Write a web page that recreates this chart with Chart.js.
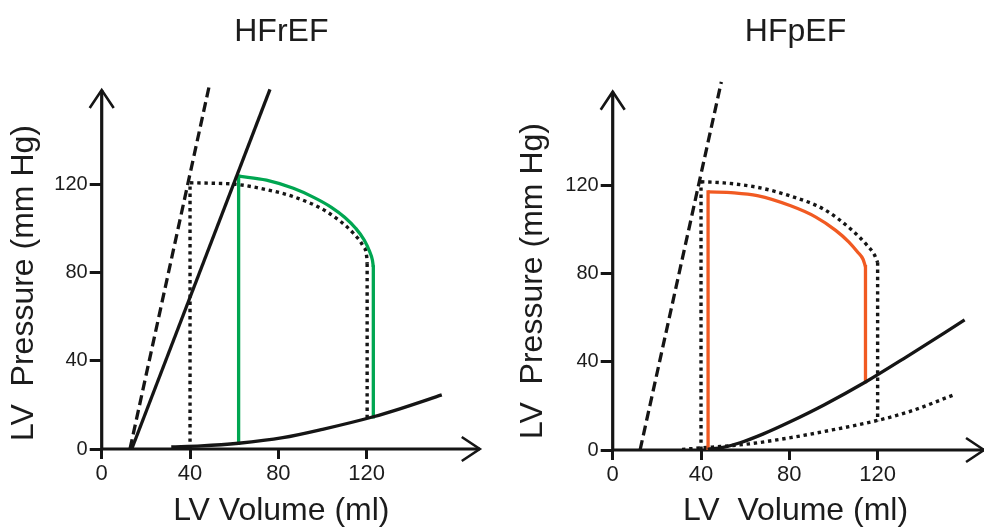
<!DOCTYPE html>
<html><head><meta charset="utf-8">
<script src="https://cdn.jsdelivr.net/npm/chart.js@4/dist/chart.umd.min.js"></script>
<style>
html,body{margin:0;padding:0;background:#fff;overflow:hidden}
#wrap{position:relative;width:984px;height:527px}
.pane{position:absolute;top:0;width:492px;height:527px}
</style></head><body>
<div id="wrap">
<div class="pane" style="left:0"><canvas id="c1" width="492" height="527"></canvas></div>
<div class="pane" style="left:492px"><canvas id="c2" width="492" height="527"></canvas></div>
</div>
<script>
// ---- text / ticks ----
const panelTitles = ['HFrEF', 'HFpEF'];
const xAxisTitles = ['LV Volume (ml)', 'LV  Volume (ml)'];
const yAxisTitle = 'LV  Pressure (mm Hg)';
const xTickValues = [0, 40, 80, 120];
const yTickValues = [0, 40, 80, 120];

// ---- HFrEF panel: [volume ml, pressure mmHg] ----
const rNormalESPVR = [[12.8, 0], [49.0, 165.9]];
const rHfrefESPVR = [[13.6, 0], [76.2, 162.9]];
const rEDPVR = [[31.5, 1.0], [45, 1.4], [62, 2.6], [82, 5.1], [100, 8.9], [123, 14.6], [135, 18.2], [154, 24.5]];
const rNormalLoopLeft = [[40, 0], [40, 120.6]];
const rNormalLoopTop = [[40, 120.6], [50, 120.4], [61, 119.9], [74.6, 117.5], [86.8, 114.3], [101.9, 107.5], [114, 97.7], [118.3, 92], [120, 87.1], [120.2, 84]];
const rNormalLoopRight = [[120.2, 84], [120.2, 14.2]];
const rLoopLeft = [[62, 2.6], [62, 123.6]];
const rLoopTop = [[62, 123.6], [74.6, 121.8], [86.8, 118.1], [96, 114], [104, 109.5], [110, 105], [115, 100], [118.8, 94.8], [121.3, 89.5], [122.6, 85.5], [123, 82.5]];
const rLoopRight = [[123, 82.5], [123, 14.6]];

// ---- HFpEF panel ----
const pNormalESPVR = [[12.4, 0], [49.2, 166.7]];
const pNormalEDPVR = [[31.4, 0.3], [45, 1.3], [62, 2.8], [80.6, 5.6], [100, 9.2], [120, 13.4], [135, 17.6], [154.3, 24.9]];
const pHfpefEDPVR = [[43, 0.3], [50, 1.2], [57.7, 3.3], [68, 7.2], [80.6, 12.9], [95.7, 20.4], [114.7, 30.9], [133.1, 42.2], [159.4, 58.9]];
const pNormalLoopLeft = [[40, 0], [40, 121.5]];
const pNormalLoopTop = [[40, 121.5], [50.3, 121], [65.5, 119], [80.6, 115], [95.7, 109], [107.9, 100], [115.5, 92.4], [118.5, 88.5], [120, 85]];
const pNormalLoopRight = [[120, 85], [120, 13]];
const pLoopLeft = [[43.2, 0.8], [43.2, 116.9]];
const pLoopTop = [[43.2, 116.9], [55, 116.5], [65.5, 115.2], [80.6, 110.6], [92, 105.5], [101, 99.5], [107, 94.2], [111, 89.6], [113.4, 86.4], [114.5, 83]];
const pLoopRight = [[114.5, 83], [114.5, 31]];

// ---- styling ----
const FONT = "'Liberation Sans', Arial, Helvetica, sans-serif";
const INK = '#151515';
const TXT = '#1c1c1c';
const GREEN = '#00a651';
const ORANGE = '#f15a22';

const pts = a => a.map(([x, y]) => ({x, y}));
function ds(data, color, style, smooth, cap) {
  return {
    data: pts(data), showLine: true, borderColor: color, backgroundColor: color,
    borderWidth: style === 'dot' ? 3.4 : 3.3, pointRadius: 0, fill: false, clip: false,
    tension: smooth ? 0.4 : 0,
    cubicInterpolationMode: smooth ? 'monotone' : 'default',
    borderDash: style === 'dash' ? [10, 5] : style === 'dot' ? [3.4, 3.8] : [],
    borderCapStyle: cap || 'butt', borderJoinStyle: 'miter'
  };
}

const axisArrows = {
  id: 'axisArrows',
  beforeDatasetsDraw(chart, args, opts) {
    const {ctx, scales: {x, y}} = chart;
    const x0 = x.getPixelForValue(0), y0 = y.getPixelForValue(0);
    const xt = x.getPixelForValue(opts.xEnd), yt = y.getPixelForValue(opts.yEnd);
    ctx.save();
    ctx.strokeStyle = INK; ctx.lineWidth = 3.2; ctx.lineCap = 'butt';
    ctx.beginPath();
    ctx.moveTo(x0 - 1.5, y0); ctx.lineTo(xt, y0);
    ctx.moveTo(x0, y0 + 1.5); ctx.lineTo(x0, yt);
    ctx.stroke();
    ctx.lineWidth = 2.6; ctx.lineJoin = 'miter';
    ctx.beginPath();
    ctx.moveTo(xt - 18, y0 - 12); ctx.lineTo(xt, y0); ctx.lineTo(xt - 18, y0 + 12);
    ctx.moveTo(x0 - 12, yt + 18); ctx.lineTo(x0, yt); ctx.lineTo(x0 + 12, yt + 18);
    ctx.stroke();
    ctx.restore();
  }
};

function makeChart(id, idx, datasets, L) {
  return new Chart(document.getElementById(id), {
    type: 'scatter',
    data: {datasets},
    plugins: [axisArrows],
    options: {
      responsive: false, animation: false, events: [],
      layout: {padding: {left: L.padLeft, right: L.padRight, top: 0, bottom: 0}},
      plugins: {
        legend: {display: false}, tooltip: {enabled: false},
        title: {display: true, text: panelTitles[idx], fullSize: false, color: TXT,
                font: {family: FONT, size: 32, weight: 'normal', lineHeight: 1},
                padding: {top: 15.8, bottom: L.titleBottom}},
        axisArrows: {xEnd: L.xEnd, yEnd: L.yEnd}
      },
      scales: {
        x: {
          type: 'linear', min: 0, max: L.xMax,
          border: {display: false},
          grid: {display: true, drawOnChartArea: false, drawTicks: true, tickLength: 10, tickWidth: 3, tickColor: INK, color: INK, lineWidth: 3},
          ticks: {padding: 2, color: TXT, font: {family: FONT, size: 22}},
          afterBuildTicks: s => { s.ticks = xTickValues.map(v => ({value: v})); },
          afterFit: s => { s.height = L.xHeight; },
          title: {display: true, text: xAxisTitles[idx], color: TXT, padding: 0,
                  font: {family: FONT, size: 32, lineHeight: 1}}
        },
        y: {
          type: 'linear', min: 0, max: L.yMax,
          border: {display: false},
          grid: {display: true, drawOnChartArea: false, drawTicks: true, tickLength: 12, tickWidth: 3, tickColor: INK, color: INK, lineWidth: 3},
          ticks: {padding: 2, color: TXT, font: {family: FONT, size: 20}},
          afterBuildTicks: s => { s.ticks = yTickValues.map(v => ({value: v})); },
          afterFit: s => { s.width = L.yWidth; },
          title: {display: true, text: yAxisTitle, color: TXT, padding: 0,
                  font: {family: FONT, size: 32, lineHeight: 1}}
        }
      }
    }
  });
}

makeChart('c1', 0, [
  ds(rEDPVR, INK, 'solid', true),
  ds(rHfrefESPVR, INK, 'solid'),
  ds(rLoopLeft, GREEN, 'solid', false, 'square'),
  ds(rLoopTop, GREEN, 'solid', true),
  ds(rLoopRight, GREEN, 'solid', false, 'square'),
  ds(rNormalESPVR, INK, 'dash'),
  ds(rNormalLoopLeft, INK, 'dot'),
  ds(rNormalLoopTop, INK, 'dot', true),
  ds(rNormalLoopRight, INK, 'dot')
], {padLeft: 8.5, padRight: 31, yWidth: 93.2, xHeight: 78, titleBottom: 69.2, xMax: 162.7, yMax: 150.4, xEnd: 171.2, yEnd: 162.6});

makeChart('c2', 1, [
  ds(pHfpefEDPVR, INK, 'solid', true),
  ds(pLoopLeft, ORANGE, 'solid', false, 'square'),
  ds(pLoopTop, ORANGE, 'solid', true),
  ds(pLoopRight, ORANGE, 'solid', false, 'square'),
  ds(pNormalESPVR, INK, 'dash'),
  ds(pNormalEDPVR, INK, 'dot', true),
  ds(pNormalLoopLeft, INK, 'dot'),
  ds(pNormalLoopTop, INK, 'dot', true),
  ds(pNormalLoopRight, INK, 'dot')
], {padLeft: 24.8, padRight: 5.7, yWidth: 95.9, xHeight: 77, titleBottom: 64.2, xMax: 165.6, yMax: 153.1, xEnd: 168.2, yEnd: 162.3});
</script>
</body></html>
